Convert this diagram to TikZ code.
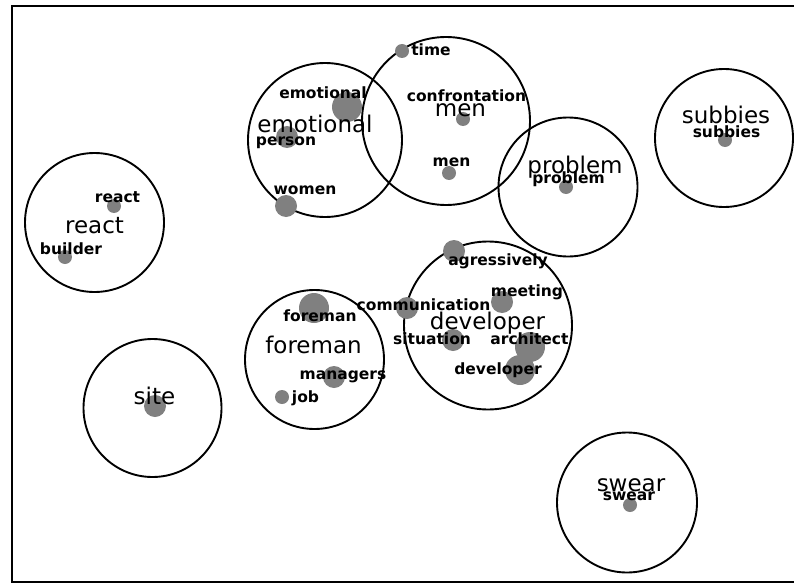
\documentclass[tikz,border=0pt]{standalone}
\usepackage{fontspec}
\setmainfont{DejaVu Sans}
\usepackage{tikz}
\usetikzlibrary{shapes.geometric,positioning}
\definecolor{dotgray}{RGB}{128,128,128}
\tikzset
{
    cluster/.style   = {circle, draw=black, line width=1.9pt, inner sep=0pt},
    termdot/.style   = {circle, fill=dotgray, inner sep=0pt},
    bigdot/.style    = {termdot, minimum size=30pt},
    middot/.style    = {termdot, minimum size=22pt},
    smalldot/.style  = {termdot, minimum size=14pt},
    termlabel/.style = {inner sep=0pt, anchor=base, font=\fontsize{15.5}{16}\selectfont\bfseries},
    topiclabel/.style= {inner sep=0pt, anchor=base, font=\fontsize{23}{24}\selectfont}
}
\begin{document}
\begin{tikzpicture}[x=1pt, y=-1pt]
    \useasboundingbox (0,0) rectangle (794,583);
    \draw [line width=2pt] (794,6.5) -- (11.5,6.5) -- (11.5,581.5) -- (794,581.5);

    \node [cluster, minimum size=139pt] (c-react)     at (94.5,222.5) {};
    \node [cluster, minimum size=138pt] (c-site)      at (152.5,408) {};
    \node [cluster, minimum size=154pt] (c-emotional) at (325,140) {};
    \node [cluster, minimum size=168pt] (c-men)       at (446,121) {};
    \node [cluster, minimum size=139pt] (c-problem)   at (568,187) {};
    \node [cluster, minimum size=138pt] (c-subbies)   at (724,138) {};
    \node [cluster, minimum size=139pt] (c-foreman)   at (314.5,359.5) {};
    \node [cluster, minimum size=168pt] (c-developer) at (488,325.5) {};
    \node [cluster, minimum size=140pt] (c-swear)     at (627,502.5) {};

    \node [smalldot] (d-react)         at (114,206) {};
    \node [smalldot] (d-builder)       at (65,257) {};
    \node [middot]   (d-site)          at (155,406) {};
    \node [bigdot]   (d-emotional)     at (347,107) {};
    \node [middot]   (d-person)        at (287,137) {};
    \node [middot]   (d-women)         at (286,206) {};
    \node [smalldot] (d-time)          at (402,51) {};
    \node [smalldot] (d-confrontation) at (463,119) {};
    \node [smalldot] (d-men)           at (449,173) {};
    \node [smalldot] (d-problem)       at (566,187) {};
    \node [smalldot] (d-subbies)       at (725,140) {};
    \node [bigdot]   (d-foreman)       at (314,308) {};
    \node [middot]   (d-managers)      at (334,377) {};
    \node [smalldot] (d-job)           at (282,397) {};
    \node [middot]   (d-agressively)   at (454,251) {};
    \node [middot]   (d-communication) at (407,308) {};
    \node [middot]   (d-meeting)       at (502,302) {};
    \node [middot]   (d-situation)     at (453,340) {};
    \node [bigdot]   (d-architect)     at (530,347) {};
    \node [bigdot]   (d-developer)     at (520,370) {};
    \node [smalldot] (d-swear)         at (630,505) {};

    \node [topiclabel] (t-react)     at (94.5,233) {react};
    \node [topiclabel] (t-site)      at (154.5,404) {site};
    \node [topiclabel] (t-emotional) at (315,132) {emotional};
    \node [topiclabel] (t-men)       at (460.5,117) {men};
    \node [topiclabel] (t-problem)   at (575,173) {problem};
    \node [topiclabel] (t-subbies)   at (726,124) {subbies};
    \node [topiclabel] (t-foreman)   at (313.5,353) {foreman};
    \node [topiclabel] (t-developer) at (487.5,329) {developer};
    \node [topiclabel] (t-swear)     at (631,491) {swear};

    \node [termlabel] (l-react)         at (117.5,202) {react};
    \node [termlabel] (l-builder)       at (71,254) {builder};
    \node [termlabel] (l-emotional)     at (323,99) {emotional};
    \node [termlabel] (l-person)        at (286,145) {person};
    \node [termlabel] (l-women)         at (305,194) {women};
    \node [termlabel] (l-time)          at (431,56) {time};
    \node [termlabel] (l-confrontation) at (466.5,102) {confrontation};
    \node [termlabel] (l-men)           at (451.5,166) {men};
    \node [termlabel] (l-problem)       at (568.5,183) {problem};
    \node [termlabel] (l-subbies)       at (726.5,137) {subbies};
    \node [termlabel] (l-foreman)       at (320,321) {foreman};
    \node [termlabel] (l-managers)      at (343,379) {managers};
    \node [termlabel] (l-job)           at (305.5,402) {job};
    \node [termlabel] (l-agressively)   at (498,265) {agressively};
    \node [termlabel] (l-meeting)       at (527,296) {meeting};
    \node [termlabel] (l-communication) at (423.5,310) {communication};
    \node [termlabel] (l-situation)     at (432,344) {situation};
    \node [termlabel] (l-architect)     at (529.5,344) {architect};
    \node [termlabel] (l-developer)     at (498,374) {developer};
    \node [termlabel] (l-swear)         at (629,500) {swear};
\end{tikzpicture}
\end{document}
